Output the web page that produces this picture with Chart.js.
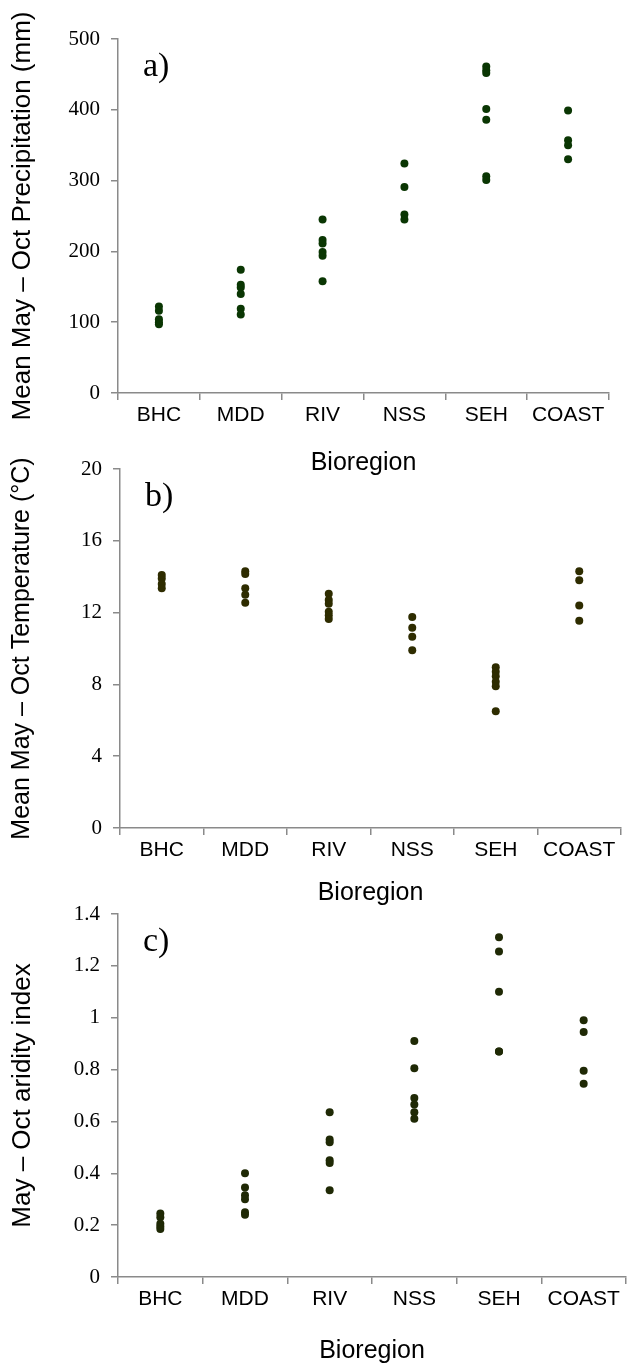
<!DOCTYPE html>
<html>
<head>
<meta charset="utf-8">
<script src="https://cdn.jsdelivr.net/npm/chart.js@4.4.1/dist/chart.umd.min.js"></script>
<style>
  html, body { margin: 0; padding: 0; background: #fff; }
  #wrap { position: relative; width: 633px; height: 1366px; overflow: hidden; }
  canvas { position: absolute; left: 0; }
</style>
</head>
<body>
<div id="wrap">
  <canvas id="chartA" width="633" height="480" style="top:0px"></canvas>
  <canvas id="chartB" width="633" height="470" style="top:440px"></canvas>
  <canvas id="chartC" width="633" height="486" style="top:880px"></canvas>
</div>
<script>
// bioregions along the x axis
const bioregions = ['BHC', 'MDD', 'RIV', 'NSS', 'SEH', 'COAST'];

// a) mean May - Oct precipitation (mm), one list per bioregion
const precipitation = [
  [122, 116, 104, 100, 97],
  [174, 153, 149, 140, 119, 111],
  [245, 216, 211, 199, 194, 158],
  [324, 291, 252, 245],
  [461, 456, 452, 401, 386, 306, 301],
  [399, 357, 350, 330]
];

// b) mean May - Oct temperature (°C)
const temperature = [
  [14.1, 13.9, 13.6, 13.35],
  [14.3, 14.15, 13.35, 13.0, 12.55],
  [13.05, 12.7, 12.5, 12.05, 11.85, 11.65],
  [11.75, 11.15, 10.65, 9.9],
  [8.95, 8.7, 8.45, 8.15, 7.9, 6.5],
  [14.3, 13.8, 12.4, 11.55]
];

// c) May - Oct aridity index
const aridity = [
  [0.245, 0.23, 0.205, 0.195, 0.185],
  [0.40, 0.345, 0.315, 0.30, 0.25, 0.24],
  [0.635, 0.53, 0.52, 0.45, 0.44, 0.335],
  [0.91, 0.805, 0.69, 0.665, 0.635, 0.61],
  [1.31, 1.255, 1.10, 0.87, 0.87],
  [0.99, 0.945, 0.795, 0.745]
];

const SANS = '"Liberation Sans", Arial, sans-serif';
const SERIF = '"Liberation Serif", "Times New Roman", serif';
const AXIS = '#8a8a8a';

// draws the "a)", "b)", "c)" tag inside the plot
const panelLabel = {
  id: 'panelLabel',
  afterDraw(chart, args, opts) {
    const { ctx, chartArea } = chart;
    ctx.save();
    ctx.font = '34px ' + SERIF;
    ctx.fillStyle = '#000';
    ctx.textBaseline = 'alphabetic';
    ctx.fillText(opts.text, chartArea.left + 25, chartArea.top + 37);
    ctx.restore();
  }
};

function toPoints(groups) {
  const pts = [];
  groups.forEach((vals, i) => {
    vals.forEach(v => pts.push({ x: bioregions[i], y: v }));
  });
  return pts;
}

function makeChart(id, cfg) {
  const canvas = document.getElementById(id);
  return new Chart(canvas.getContext('2d'), {
    type: 'scatter',
    data: {
      labels: bioregions,
      datasets: [{
        data: toPoints(cfg.values),
        backgroundColor: cfg.color,
        borderWidth: 0,
        pointRadius: 4
      }]
    },
    plugins: [panelLabel],
    options: {
      responsive: false,
      animation: false,
      devicePixelRatio: 1,
      layout: { padding: { top: cfg.top, right: cfg.right, left: 0, bottom: 0 } },
      plugins: {
        legend: { display: false },
        tooltip: { enabled: false },
        panelLabel: { text: cfg.tag }
      },
      scales: {
        x: {
          type: 'category',
          offset: true,
          grid: { offset: true, drawOnChartArea: false, drawTicks: true, tickLength: 7, color: AXIS, lineWidth: 1.5 },
          border: { display: true, color: AXIS, width: 1.5 },
          ticks: { color: '#000', font: { family: SANS, size: 21 }, padding: 3, maxRotation: 0, autoSkip: false },
          title: { display: true, text: 'Bioregion', color: '#000', font: { family: SANS, size: 25 }, padding: { top: 0, bottom: cfg.titlePad } },
          afterFit: s => { s.height = cfg.xHeight; }
        },
        y: {
          min: cfg.min,
          max: cfg.max,
          grid: { drawOnChartArea: false, drawTicks: true, tickLength: 7, color: AXIS, lineWidth: 1.5 },
          border: { display: true, color: AXIS, width: 1.5 },
          ticks: {
            stepSize: cfg.step,
            color: '#000',
            padding: 11,
            font: { family: SERIF, size: 21 },
            callback: v => String(+v.toFixed(1))
          },
          title: { display: true, text: cfg.yTitle, color: '#000', font: { family: SANS, size: cfg.yTitleSize }, padding: { top: 7, bottom: 0 } },
          afterFit: s => { s.width = cfg.yWidth; }
        }
      }
    }
  });
}

makeChart('chartA', {
  values: precipitation, color: '#0a3603', tag: 'a)',
  min: 0, max: 500, step: 100,
  yTitle: 'Mean May \u2013 Oct Precipitation (mm)', yTitleSize: 26,
  top: 39, right: 24, xHeight: 87, yWidth: 118, titlePad: 2
});

makeChart('chartB', {
  values: temperature, color: '#2e2c00', tag: 'b)',
  min: 0, max: 20, step: 4,
  yTitle: 'Mean May \u2013 Oct Temperature (\u00B0C)', yTitleSize: 25,
  top: 29, right: 12, xHeight: 82, yWidth: 120, titlePad: 2
});

makeChart('chartC', {
  values: aridity, color: '#1f2905', tag: 'c)',
  min: 0, max: 1.4, step: 0.2,
  yTitle: 'May \u2013 Oct aridity index', yTitleSize: 26,
  top: 34, right: 7, xHeight: 89, yWidth: 118, titlePad: 0
});
</script>
</body>
</html>
